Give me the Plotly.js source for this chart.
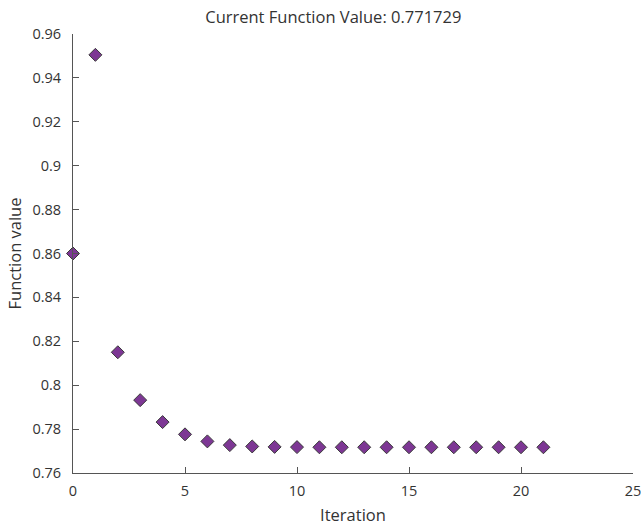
<!DOCTYPE html>
<html>
<head>
<meta charset="utf-8">
<script src="https://cdn.plot.ly/plotly-3.0.1.min.js"></script>
<style>html,body{margin:0;padding:0;background:#fff;}#chart{width:641px;height:531px;}</style>
</head>
<body>
<div id="chart"></div>
<script>
const iterations = [0,1,2,3,4,5,6,7,8,9,10,11,12,13,14,15,16,17,18,19,20,21];
const functionValues = [0.8600,0.9505,0.8150,0.7932,0.7832,0.7776,0.7744,0.7727,0.7721,0.7719,0.7718,0.771729,0.771729,0.771729,0.771729,0.771729,0.771729,0.771729,0.771729,0.771729,0.771729,0.771729];
const xTicks = [0,5,10,15,20,25];
const yTicks = [0.76,0.78,0.8,0.82,0.84,0.86,0.88,0.9,0.92,0.94,0.96];
const yTickLabels = ['0.76','0.78','0.8','0.82','0.84','0.86','0.88','0.9','0.92','0.94','0.96'];
const titleText = 'Current Function Value: 0.771729';

const fontFam = '"Open Sans", "Noto Sans", sans-serif';
const trace = {
  x: iterations, y: functionValues, type: 'scatter', mode: 'markers',
  marker: {symbol: 'diamond', size: 10, color: '#7D3794', line: {color: '#3a3a3a', width: 1}},
  cliponaxis: false, hoverinfo: 'none'
};
const axisCommon = {
  showgrid: false, zeroline: false, showline: true, linecolor: '#555', linewidth: 1,
  ticks: 'inside', ticklen: 6, tickcolor: '#555', mirror: false,
  ticklabeloverflow: 'allow',
  tickfont: {family: fontFam, size: 14.5, color: '#333'}
};
const layout = {
  width: 641, height: 531,
  margin: {l: 73, r: 8, t: 34, b: 58},
  paper_bgcolor: '#fff', plot_bgcolor: '#fff',
  showlegend: false,
  title: {text: titleText, font: {family: fontFam, size: 16.5, color: '#333'}, x: 0.52, xanchor: 'center', y: 0.967, yanchor: 'middle'},
  xaxis: Object.assign({}, axisCommon, {range: [0, 25], tickvals: xTicks, ticktext: xTicks.map(String),
    ticklabelstandoff: 5,
    title: {text: 'Iteration', font: {family: fontFam, size: 16.5, color: '#333'}, standoff: 10}}),
  yaxis: Object.assign({}, axisCommon, {range: [0.76, 0.96], tickvals: yTicks, ticktext: yTickLabels,
    ticklabelstandoff: 8,
    title: {text: 'Function value', font: {family: fontFam, size: 16.5, color: '#333'}, standoff: 6}})
};
Plotly.newPlot('chart', [trace], layout, {staticPlot: true, displayModeBar: false});
</script>
</body>
</html>
